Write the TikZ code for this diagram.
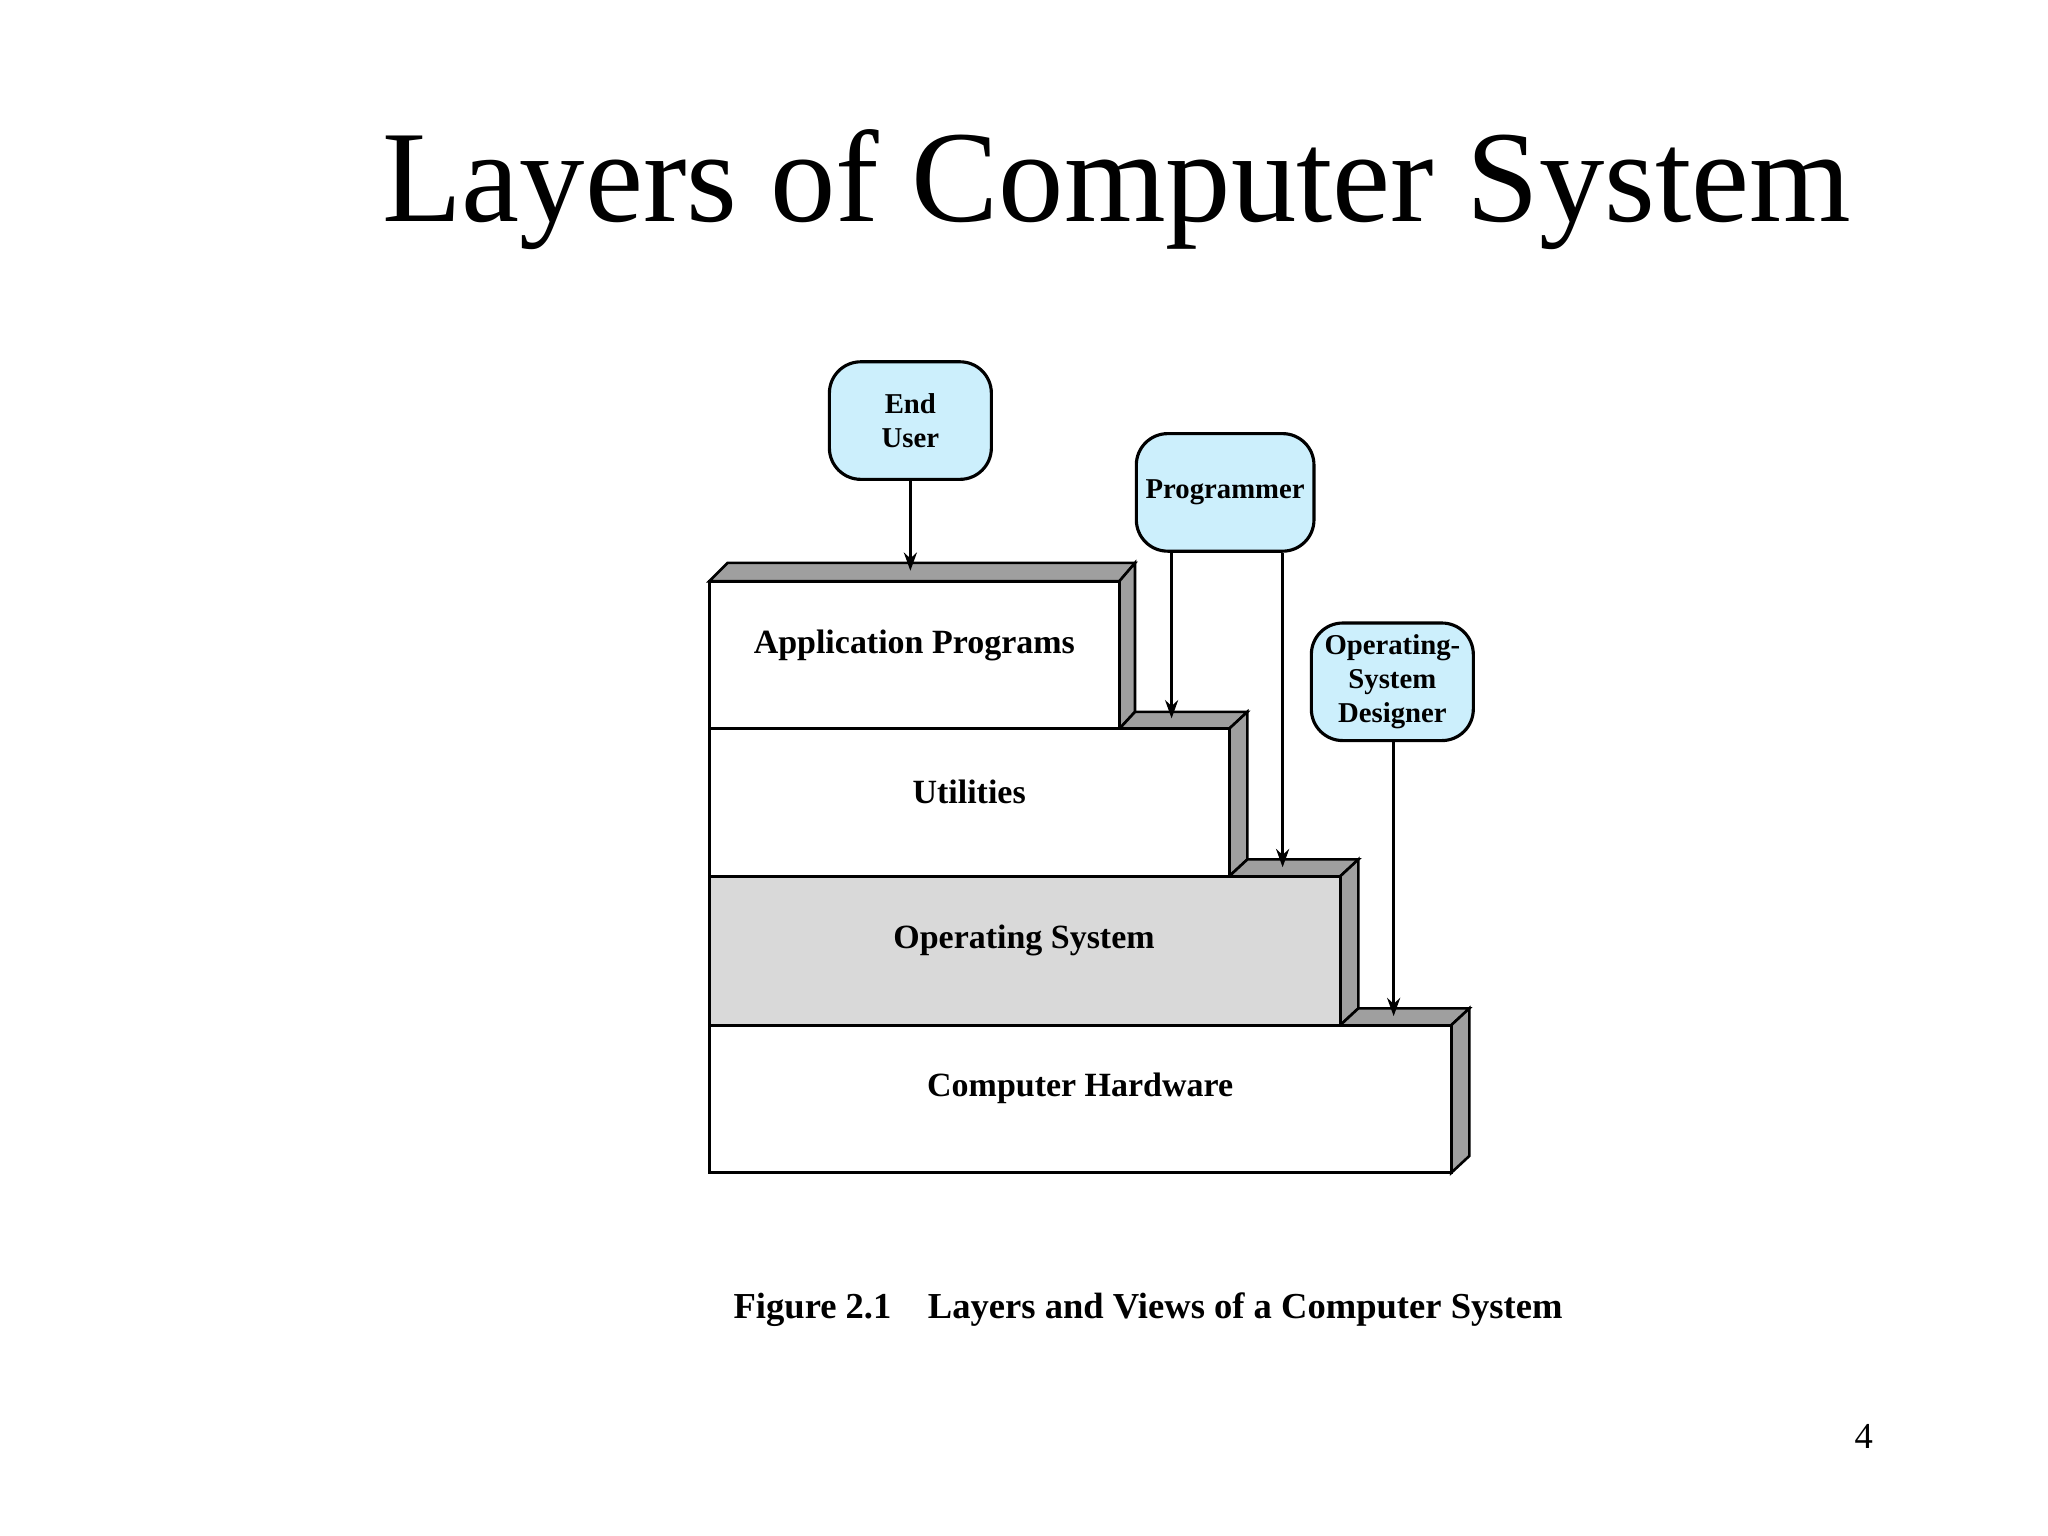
\documentclass[tikz,border=0pt]{standalone}
\usepackage{fontspec}
\setmainfont{Liberation Serif}
\usetikzlibrary{arrows.meta}
\begin{document}
\begin{tikzpicture}[x=0.5pt,y=-0.5pt,
  layer/.style={draw=black,line width=1.2pt},
  shade/.style={draw=black,fill=gray!75,line width=1pt},
  lbl/.style={font=\bfseries\fontsize{13}{15}\selectfont},
  who/.style={draw=black,line width=1.2pt,fill=cyan!20!white,rounded corners=12pt,font=\bfseries\fontsize{11}{13}\selectfont,align=center,inner sep=0pt},
  arr/.style={-{Stealth[length=7pt,width=5pt]},line width=1pt}]
\useasboundingbox (0,0) rectangle (1568,1176);
\node[font=\fontsize{50}{56}\selectfont] (title) at (855,145) {Layers of Computer System};
% shades
\draw[shade] (543,445)--(557,431)--(869,431)--(857,445)--cycle;
\draw[shade] (857,445)--(869,431)--(869,545)--(857,558)--cycle;
\draw[shade] (857,558)--(869,545)--(955,545)--(941,558)--cycle;
\draw[shade] (941,558)--(955,545)--(955,658)--(941,671)--cycle;
\draw[shade] (941,671)--(955,658)--(1040,658)--(1026,671)--cycle;
\draw[shade] (1026,671)--(1040,658)--(1040,772)--(1026,785)--cycle;
\draw[shade] (1026,785)--(1040,772)--(1125,772)--(1111,785)--cycle;
\draw[shade] (1111,785)--(1125,772)--(1125,885)--(1111,898)--cycle;
% layers
\draw[layer,fill=white] (543,445) rectangle (857,558);
\draw[layer,fill=white] (543,558) rectangle (941,671);
\draw[layer,fill=gray!30] (543,671) rectangle (1026,785);
\draw[layer,fill=white] (543,785) rectangle (1111,898);
\node[lbl] (app) at (700,494) {Application Programs};
\node[lbl] (util) at (742,606) {Utilities};
\node[lbl] (os) at (784,720) {Operating System};
\node[lbl] (hw) at (827,833) {Computer Hardware};
% users
\node[who,minimum width=62pt,minimum height=45pt] (eu) at (697,322) {End\\User};
\node[who,minimum width=68pt,minimum height=45pt] (pr) at (938,377) {Programmer};
\node[who,minimum width=62pt,minimum height=45pt] (osd) at (1066,522) {Operating-\\System\\Designer};
\coordinate (t1) at (697,437);
\coordinate (t2) at (897,550);
\coordinate (t3) at (982,664);
\coordinate (t4) at (1067,778);
\draw[arr] (eu.south) -- (t1);
\draw[arr] (pr.south -| t2) -- (t2);
\draw[arr] (pr.south -| t3) -- (t3);
\draw[arr] (osd.south -| t4) -- (t4);
\node[font=\bfseries\fontsize{14}{16}\selectfont] (cap) at (879,1003) {Figure 2.1\quad Layers and Views of a Computer System};
\node[font=\fontsize{14}{16}\selectfont] (pg) at (1427,1100) {4};
\end{tikzpicture}
\end{document}
